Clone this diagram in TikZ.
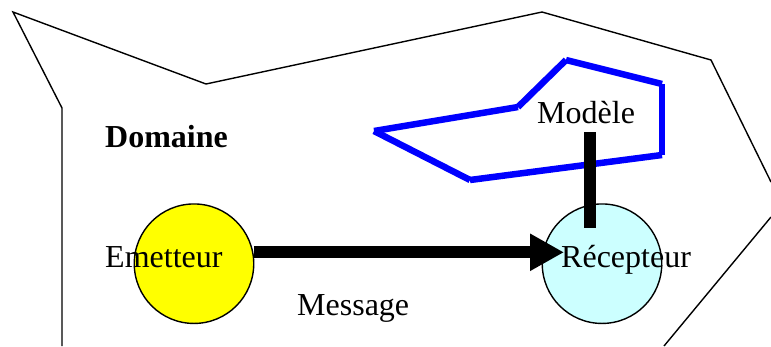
\documentclass[tikz,border=0pt]{standalone}
\usepackage{fontspec}
\setmainfont{Liberation Serif}
\usetikzlibrary{arrows.meta}
\definecolor{cyanpale}{RGB}{204,255,255}
\definecolor{pureyellow}{RGB}{255,255,0}
\definecolor{pureblue}{RGB}{0,0,255}
\tikzset{
  lbl/.style={anchor=base west,inner sep=0pt,font=\fontsize{32}{36}\selectfont},
  disc/.style={circle,draw=black,line width=1.4pt,minimum size=119.5pt,inner sep=0pt},
  outline/.style={draw=black,line width=1.4pt,line join=miter},
  modelseg/.style={draw=pureblue,line width=6.5pt,line cap=butt},
  thick link/.style={draw=black,line width=12pt,line cap=butt}
}
\begin{document}
\begin{tikzpicture}[x=1pt,y=-1pt]
\useasboundingbox (0,0) rectangle (771,346);
% domain outline
\path[outline] (62,346) -- (62,108) -- (13,12) -- (206,84) -- (542,12) -- (711,60) -- (771,182);
\path[outline] (771,217) -- (664,346);
% model polygon
\coordinate (m1) at (374,131);
\coordinate (m2) at (518,107);
\coordinate (m3) at (566,60);
\coordinate (m4) at (662,84);
\coordinate (m5) at (662,155);
\coordinate (m6) at (470,180);
\path[modelseg] (m1) -- (m2);
\path[modelseg] (m2) -- (m3);
\path[modelseg] (m3) -- (m4);
\path[modelseg] (m4) -- (m5);
\path[modelseg] (m5) -- (m6);
\path[modelseg] (m6) -- (m1);
% circles
\node[disc,fill=pureyellow] (emet) at (194,263.7) {};
\node[disc,fill=cyanpale] (recep) at (602,263.7) {};
% connectors
\coordinate (msgstart) at (emet.east |- 0,252.3);
\coordinate (msgend) at (564,252.3);
\coordinate (modtop) at (590,132);
\coordinate (modbot) at (590,228);
\draw[draw=black,line width=12pt,-{Triangle[length=34pt,width=35pt]}] (msgstart) -- (msgend);
\path[thick link] (modtop) -- (modbot);
% labels
\node[lbl] (ldom) at (105,147) {\textbf{Domaine}};
\node[lbl] (lem) at (105,267) {Emetteur};
\node[lbl] (lrec) at (561,267) {Récepteur};
\node[lbl] (lmod) at (537,123) {Modèle};
\node[lbl] (lmsg) at (297,315) {Message};
\end{tikzpicture}
\end{document}
